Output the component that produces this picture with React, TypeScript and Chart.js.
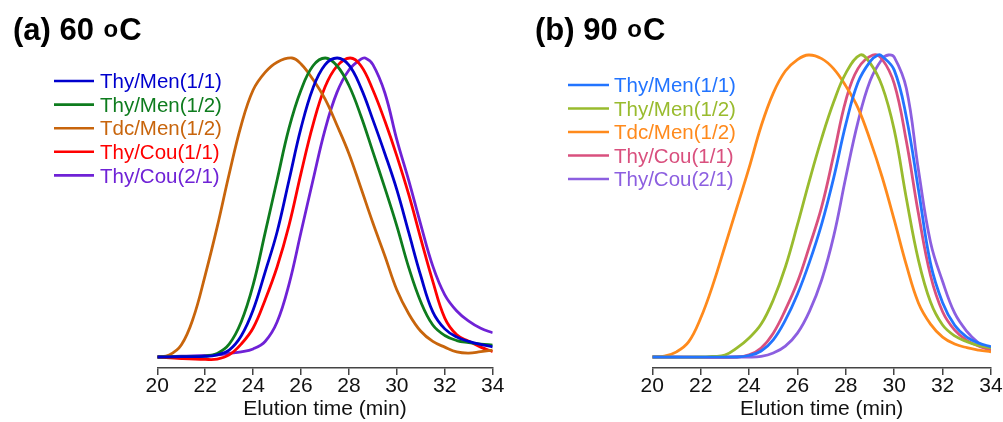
import React, { useEffect, useRef } from "react";
import { Chart, registerables } from "chart.js";

Chart.register(...registerables);

// ---------- data ----------
const X_MIN = 20;
const X_MAX = 34;
const X_STEP = 2;
const X_TITLE = "Elution time (min)";

const SERIES_NAMES = ["Thy/Men(1/1)", "Thy/Men(1/2)", "Tdc/Men(1/2)", "Thy/Cou(1/1)", "Thy/Cou(2/1)"];

const PANEL_A_TITLE = "(a) 60 ";
const PANEL_B_TITLE = "(b) 90 ";

const COLORS_A = ["#0000CD", "#0E7C1E", "#C8650C", "#FF0000", "#6F22D6"];
const COLORS_B = ["#2274FF", "#99BB2E", "#FF8A1C", "#D9507E", "#8C5FE0"];

// Panel (a) 60 °C — [elution time (min), normalized signal]
const A_THY_MEN_11: [number, number][] = [
  [20, 0], [21, 0.1], [22, 0.2], [22.5, 0.7], [23, 2.3], [23.5, 7.0], [24, 15.7], [24.5, 28.4],
  [25, 41.8], [25.5, 59.2], [26, 76.6], [26.5, 90.0], [27, 97.7], [27.51, 100], [28, 97.6],
  [28.5, 90.0], [29, 79.3], [29.5, 68.0], [30, 55.9], [30.5, 41.5], [31, 27.1], [31.5, 15.1],
  [32, 9.4], [32.5, 6.7], [33, 5.2], [33.5, 4.2], [34, 3.4],
];
const A_THY_MEN_12: [number, number][] = [
  [20, 0], [21, 0.1], [22, 0.3], [22.5, 1.2], [23, 4.3], [23.5, 11.7], [24, 24.1], [24.5, 41.5],
  [25, 59.2], [25.5, 76.6], [26, 89.3], [26.5, 97.4], [27.01, 100], [27.5, 97.4], [28, 90.8],
  [28.5, 80.6], [29, 68.6], [29.5, 56.5], [30, 43.8], [30.5, 29.8], [31, 18.4], [31.5, 10.7],
  [32, 7.2], [32.5, 5.5], [33, 4.8], [33.5, 4.3], [34, 4.0],
];
const A_TDC_MEN_12: [number, number][] = [
  [20, 0], [20.5, 0.7], [21, 4.0], [21.5, 13.0], [22, 27.4], [22.5, 43.5], [23, 61.2], [23.5, 77.5],
  [24, 89.3], [24.5, 95.2], [25, 98.6], [25.62, 100], [26, 98.0], [26.5, 92.8], [27, 86.3],
  [27.5, 77.5], [28, 68.0], [28.5, 56.5], [29, 44.8], [29.5, 33.8], [30, 22.4], [30.5, 14.4],
  [31, 8.6], [31.5, 5.2], [32, 3.3], [32.5, 1.7], [33, 1.3], [33.5, 1.8], [34, 2.3],
];
const A_THY_COU_11: [number, number][] = [
  [20, 0], [21, -0.5], [22, -0.8], [22.5, -0.7], [23, 0.7], [23.5, 4.3], [24, 9.7], [24.5, 19.1],
  [25, 30.1], [25.5, 44.1], [26, 61.5], [26.5, 77.7], [27, 90.3], [27.5, 97.3], [28.05, 100],
  [28.5, 97.4], [29, 89.3], [29.5, 78.9], [30, 67.2], [30.5, 54.2], [31, 39.5], [31.5, 25.3],
  [32, 13.0], [32.5, 7.4], [33, 5.3], [33.5, 3.3], [34, 1.8],
];
const A_THY_COU_21: [number, number][] = [
  [20, 0], [21, 0.3], [22, 0.5], [22.5, 0.7], [23, 1.2], [23.5, 1.7], [24, 2.7], [24.5, 5.2],
  [25, 11.7], [25.5, 24.4], [26, 41.8], [26.5, 59.2], [27, 76.0], [27.5, 88.5], [28, 96.0],
  [28.5, 99.6], [28.68, 100], [29, 97.8], [29.5, 88.3], [30, 72.6], [30.5, 58.9], [31, 44.2],
  [31.5, 30.4], [32, 20.8], [32.5, 15.4], [33, 12.0], [33.5, 9.6], [34, 8.1],
];

// Panel (b) 90 °C
const B_THY_MEN_11: [number, number][] = [
  [20, 0], [23.5, 0], [24, 0.5], [24.5, 2.0], [25, 5.7], [25.5, 12.2], [26, 20.8], [26.5, 31.5],
  [27, 44.0], [27.5, 59.4], [28, 77.1], [28.5, 90.9], [29, 97.8], [29.33, 100], [29.5, 99.6],
  [30, 95.0], [30.5, 79.5], [31, 55.5], [31.5, 31.0], [32, 18.0], [32.5, 10.5], [33, 6.6],
  [33.5, 4.6], [34, 3.4],
];
const B_THY_MEN_12: [number, number][] = [
  [20, 0], [22, 0], [22.5, 0.2], [23, 0.6], [23.5, 3.0], [24, 6.3], [24.5, 10.9], [25, 18.9],
  [25.5, 29.8], [26, 43.8], [26.5, 58.6], [27, 72.4], [27.5, 84.5], [28, 94.0], [28.59, 100],
  [29, 97.4], [29.5, 89.7], [30, 75.2], [30.5, 52.6], [31, 32.1], [31.5, 18.2], [32, 10.6],
  [32.5, 7.0], [33, 5.1], [33.5, 3.8], [34, 3.0],
];
const B_TDC_MEN_12: [number, number][] = [
  [20, 0], [20.5, 0.3], [21, 1.7], [21.5, 5.0], [22, 12.9], [22.5, 23.8], [23, 36.6], [23.5, 49.6],
  [24, 62.6], [24.5, 76.5], [25, 87.4], [25.5, 94.7], [26, 98.5], [26.46, 100], [27, 98.8],
  [27.5, 95.4], [28, 89.7], [28.5, 82.5], [29, 71.9], [29.5, 59.6], [30, 45.4], [30.5, 30.5],
  [31, 17.9], [31.5, 10.9], [32, 6.6], [32.5, 4.3], [33, 3.1], [33.5, 2.3], [34, 1.7],
];
const B_THY_COU_11: [number, number][] = [
  [20, 0], [23.5, 0], [24, 0.7], [24.5, 3.0], [25, 7.9], [25.5, 15.6], [26, 24.8], [26.5, 36.8],
  [27, 49.7], [27.5, 67.0], [28, 85.0], [28.5, 95.5], [29.12, 100], [29.5, 98.6], [30, 90.5],
  [30.5, 71.5], [31, 47.5], [31.5, 27.0], [32, 15.0], [32.5, 8.9], [33, 5.5], [33.5, 3.6], [34, 2.3],
];
const B_THY_COU_21: [number, number][] = [
  [20, 0], [24, 0], [24.5, 0.2], [25, 1.3], [25.5, 3.6], [26, 7.9], [26.5, 15.2], [27, 25.5],
  [27.5, 40.1], [28, 59.6], [28.5, 77.8], [29, 91.4], [29.5, 98.7], [29.76, 100], [30, 99.3],
  [30.5, 89.0], [31, 62.0], [31.5, 38.0], [32, 25.0], [32.5, 14.5], [33, 8.5], [33.5, 4.5], [34, 1.8],
];

const SERIES_A = [A_THY_MEN_11, A_THY_MEN_12, A_TDC_MEN_12, A_THY_COU_11, A_THY_COU_21];
const SERIES_B = [B_THY_MEN_11, B_THY_MEN_12, B_TDC_MEN_12, B_THY_COU_11, B_THY_COU_21];

// ---------- styling ----------
const FONT = '"Liberation Sans", Arial, Helvetica, sans-serif';

const overlayPlugin = {
  id: "overlay",
  afterDraw(chart: any, _args: any, opts: any) {
    const ctx: CanvasRenderingContext2D = chart.ctx;
    ctx.save();
    // panel title with raised small "o"
    ctx.fillStyle = "#000";
    ctx.textAlign = "left";
    ctx.textBaseline = "alphabetic";
    ctx.font = `bold 31px ${FONT}`;
    ctx.fillText(opts.title, opts.titleX, opts.titleY);
    let x = opts.titleX + ctx.measureText(opts.title).width + 1;
    ctx.font = `bold 24px ${FONT}`;
    ctx.fillText("o", x, opts.titleY - 3);
    x += ctx.measureText("o").width + 1;
    ctx.font = `bold 31px ${FONT}`;
    ctx.fillText("C", x, opts.titleY);
    // legend
    chart.data.datasets.forEach((ds: any, i: number) => {
      const y = opts.legendY + i * opts.legendStep;
      ctx.strokeStyle = ds.borderColor;
      ctx.lineWidth = 2.6;
      ctx.beginPath();
      ctx.moveTo(opts.lineX1, y);
      ctx.lineTo(opts.lineX2, y);
      ctx.stroke();
      ctx.fillStyle = ds.borderColor;
      ctx.font = `20.5px ${FONT}`;
      ctx.textBaseline = "middle";
      ctx.fillText(ds.label, opts.textX, y + 1.5);
    });
    ctx.restore();
  },
};

type PanelProps = {
  left: number;
  width: number;
  padLeft: number;
  padRight: number;
  yMin: number;
  yMax: number;
  series: [number, number][][];
  colors: string[];
  overlay: any;
};

function Panel(p: PanelProps) {
  const ref = useRef<HTMLCanvasElement>(null);
  useEffect(() => {
    const chart = new Chart(ref.current as HTMLCanvasElement, {
      type: "line",
      data: {
        datasets: p.series.map((s, i) => ({
          label: SERIES_NAMES[i],
          data: s.map(([x, y]) => ({ x, y })),
          borderColor: p.colors[i],
          backgroundColor: p.colors[i],
          borderWidth: 2.8,
          pointRadius: 0,
          tension: 0.4,
          fill: false,
        })),
      },
      options: {
        responsive: false,
        animation: false,
        devicePixelRatio: 1,
        layout: { padding: { left: p.padLeft, right: p.padRight, top: 40, bottom: 2.3 } },
        plugins: {
          legend: { display: false },
          tooltip: { enabled: false },
          overlay: p.overlay,
        } as any,
        scales: {
          x: {
            type: "linear",
            min: X_MIN,
            max: X_MAX,
            ticks: {
              stepSize: X_STEP,
              padding: 0.3,
              color: "#111",
              font: { family: FONT, size: 21, lineHeight: 1 },
            },
            grid: { drawOnChartArea: false, tickLength: 7, color: "#444", lineWidth: 1.5 },
            border: { color: "#444", width: 1.5 },
            title: {
              display: true,
              text: X_TITLE,
              color: "#111",
              font: { family: FONT, size: 21, lineHeight: 1 },
              padding: { top: 2.1, bottom: 0 },
            },
          },
          y: { display: false, min: p.yMin, max: p.yMax },
        },
      },
      plugins: [overlayPlugin],
    });
    return () => chart.destroy();
  }, []);
  return (
    <canvas
      ref={ref}
      width={p.width}
      height={422}
      style={{ position: "absolute", left: p.left, top: 0, width: p.width, height: 422 }}
    />
  );
}

export default function App() {
  return (
    <div
      style={{
        position: "fixed",
        left: 0,
        top: 0,
        width: 1003,
        height: 422,
        overflow: "hidden",
        background: "#fff",
      }}
    >
      <Panel
        left={0}
        width={520}
        padLeft={157.3}
        padRight={520 - 492.7}
        yMin={-3.68}
        yMax={106.02}
        series={SERIES_A}
        colors={COLORS_A}
        overlay={{
          title: PANEL_A_TITLE,
          titleX: 13,
          titleY: 40,
          legendY: 81,
          legendStep: 23.6,
          lineX1: 54,
          lineX2: 94,
          textX: 100,
        }}
      />
      <Panel
        left={480}
        width={540}
        padLeft={652.3 - 480}
        padRight={480 + 540 - 991}
        yMin={-3.64}
        yMax={104.97}
        series={SERIES_B}
        colors={COLORS_B}
        overlay={{
          title: PANEL_B_TITLE,
          titleX: 535 - 480,
          titleY: 40,
          legendY: 85,
          legendStep: 23.5,
          lineX1: 568 - 480,
          lineX2: 609 - 480,
          textX: 614 - 480,
        }}
      />
    </div>
  );
}
